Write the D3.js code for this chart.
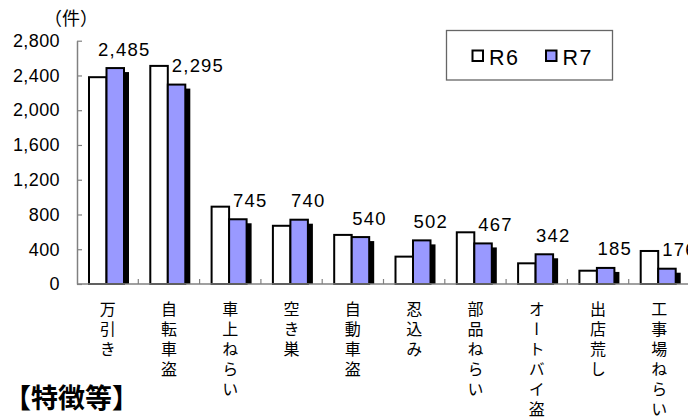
<!DOCTYPE html>
<html>
<head>
<meta charset="utf-8">
<script src="https://cdn.jsdelivr.net/npm/d3@7"></script>
<style>
  body { margin: 0; background: #fff; }
  svg { display: block; }
  .num { font-family: "Liberation Sans", Arial, sans-serif; fill: #000; }
  .jp { font-family: "Noto Sans CJK JP", sans-serif; fill: #000; }
</style>
</head>
<body>
<svg id="chart" width="688" height="418"></svg>
<script>
// data
const categories = ["万引き", "自転車盗", "車上ねらい", "空き巣", "自動車盗",
                    "忍込み", "部品ねらい", "オートバイ盗", "出店荒し", "工事場ねらい"];
const seriesNames = ["R6", "R7"];
const r6Values = [2380, 2510, 890, 670, 565, 315, 595, 238, 153, 380];
const r7Values = [2485, 2295, 745, 740, 540, 502, 467, 342, 185, 176];
const yTicks = [0, 400, 800, 1200, 1600, 2000, 2400, 2800];
const unitLabel = "（件）";
const noteLabel = "【特徴等】";

const svg = d3.select("#chart");
const colors = { R6: "#ffffff", R7: "#9999ff" };

// scales
const x = d3.scaleBand().domain(categories).range([77, 690]);
const y = d3.scaleLinear().domain([0, 2800]).range([284, 40.7]);
const barW = 17.5;
const groupOffset = 12;

// y axis, ticks pointing inward
const yAxis = svg.append("g")
    .attr("transform", "translate(77,0)")
    .call(d3.axisLeft(y).tickValues(yTicks).tickFormat(d3.format(","))
          .tickSizeInner(-5).tickSizeOuter(0).tickPadding(17));
yAxis.select(".domain").attr("stroke", "#808080").attr("stroke-width", 1.5);
yAxis.selectAll(".tick line").attr("stroke", "#808080").attr("stroke-width", 1.2);
yAxis.selectAll(".tick text")
    .attr("class", "num")
    .style("font-size", "18px")
    .style("letter-spacing", "0.4px")
    .attr("fill", "#000");

// bars
const groups = svg.append("g").selectAll("g")
    .data(categories)
    .join("g")
    .attr("transform", d => `translate(${x(d) + groupOffset},0)`);

// drop shadow behind R7 bars
groups.append("rect")
    .attr("x", barW + 5)
    .attr("y", (d, i) => y(r7Values[i]) + 4)
    .attr("width", barW)
    .attr("height", (d, i) => Math.max(0, y(0) - y(r7Values[i]) - 4))
    .attr("fill", "#000");

groups.append("rect")
    .attr("x", 0)
    .attr("y", (d, i) => y(r6Values[i]))
    .attr("width", barW)
    .attr("height", (d, i) => y(0) - y(r6Values[i]))
    .attr("fill", colors.R6)
    .attr("stroke", "#000")
    .attr("stroke-width", 2);

groups.append("rect")
    .attr("x", barW)
    .attr("y", (d, i) => y(r7Values[i]))
    .attr("width", barW)
    .attr("height", (d, i) => y(0) - y(r7Values[i]))
    .attr("fill", colors.R7)
    .attr("stroke", "#000")
    .attr("stroke-width", 2);

// x axis line and boundary ticks (pointing up)
svg.append("line")
    .attr("x1", 77).attr("x2", 690)
    .attr("y1", y(0)).attr("y2", y(0))
    .attr("stroke", "#808080").attr("stroke-width", 1.5);
svg.append("g").selectAll("line")
    .data(categories.slice(1))
    .join("line")
    .attr("x1", d => x(d)).attr("x2", d => x(d))
    .attr("y1", y(0)).attr("y2", y(0) - 5)
    .attr("stroke", "#808080").attr("stroke-width", 1.2);

// value labels for R7, pushed right when the R6 bar is in the way
const fmt = d3.format(",");
svg.append("g").selectAll("text")
    .data(categories)
    .join("text")
    .attr("class", "num")
    .style("font-size", "18.5px")
    .style("letter-spacing", "1.2px")
    .attr("y", (d, i) => y(r7Values[i]) - 12.5)
    .text((d, i) => fmt(r7Values[i]))
    .each(function (d, i) {
        const w = this.getComputedTextLength();
        const gx = x(d) + groupOffset;
        let left = gx + barW * 1.5 + 9 - w / 2;
        const bottom = y(r7Values[i]) - 12.5 + 2;
        if (r6Values[i] > r7Values[i] && bottom > y(r6Values[i])) {
            left = Math.max(left, gx + barW + 4);
        }
        d3.select(this).attr("x", left);
    });

// vertical category labels
svg.append("g").selectAll("text")
    .data(categories)
    .join("text")
    .attr("class", "jp")
    .attr("x", d => x(d) + x.bandwidth() / 2)
    .attr("y", 301)
    .style("font-size", "16px")
    .style("writing-mode", "vertical-rl")
    .style("letter-spacing", "4px")
    .text(d => d);

// unit label
svg.append("text")
    .attr("class", "jp")
    .attr("x", 71).attr("y", 25)
    .attr("text-anchor", "middle")
    .style("font-size", "18px")
    .text(unitLabel);

// legend
const legend = svg.append("g").attr("transform", "translate(446.5,30.5)");
legend.append("rect")
    .attr("width", 166).attr("height", 49.5)
    .attr("fill", "#fff")
    .attr("stroke", "#666").attr("stroke-width", 1.3);
const items = legend.selectAll("g.item")
    .data(seriesNames)
    .join("g")
    .attr("class", "item")
    .attr("transform", (d, i) => `translate(${26 + i * 73.5},0)`);
items.append("rect")
    .attr("y", 20).attr("width", 10.5).attr("height", 10.5)
    .attr("fill", d => colors[d])
    .attr("stroke", "#000").attr("stroke-width", 2);
items.append("text")
    .attr("class", "num")
    .attr("x", 16.5).attr("y", 34)
    .style("font-size", "21.5px")
    .style("letter-spacing", "1.5px")
    .text(d => d);

// footnote heading
svg.append("text")
    .attr("class", "jp")
    .attr("x", 4).attr("y", 408)
    .style("font-size", "27px")
    .style("font-weight", "bold")
    .text(noteLabel);
</script>
</body>
</html>
